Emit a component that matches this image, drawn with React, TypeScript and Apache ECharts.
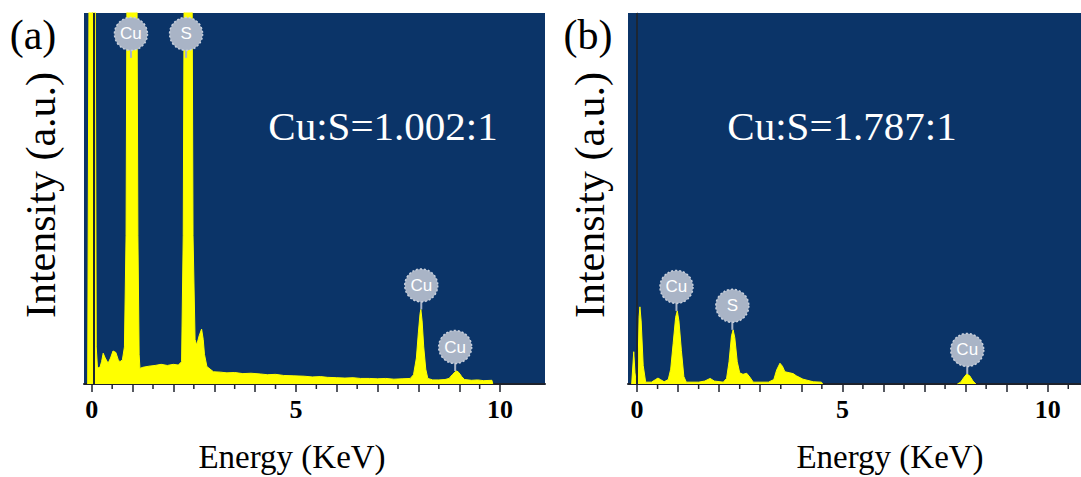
import React, { useEffect, useRef } from "react";
import * as echarts from "echarts";

// ---- Data (Energy in keV, intensity in arbitrary units, 0–100 = full plot height) ----
const spectrumA: (number | null)[][] = [
  [-0.1, 0], [-0.06, 130], [0.08, 130], [0.11, 10], [0.14, 4.3], [0.2, 4.5], [0.24, 6],
  [0.28, 8.3], [0.33, 7], [0.4, 5.6], [0.46, 7], [0.52, 8.9], [0.59, 8.5], [0.65, 6.5],
  [0.69, 6.0], [0.75, 6.5], [0.8, 10], [0.84, 40], [0.87, 130], [1.1, 130], [1.13, 40],
  [1.16, 8], [1.18, 4.2], [1.25, 4.5], [1.4, 4.8], [1.55, 5.0], [1.7, 5.3], [1.85, 5.0],
  [2.0, 5.3], [2.12, 5.1], [2.2, 6], [2.24, 40], [2.27, 130], [2.45, 130], [2.48, 40],
  [2.53, 12], [2.57, 10.5], [2.63, 13], [2.69, 14.8], [2.73, 12], [2.76, 8], [2.82, 4.7],
  [2.98, 3.3], [3.15, 3.2], [3.31, 3.0], [3.5, 3.1], [3.7, 2.8], [3.9, 2.9], [4.13, 2.7],
  [4.3, 2.5], [4.5, 2.6], [4.7, 2.3], [4.95, 2.2], [5.2, 2.1], [5.4, 1.9], [5.6, 2.0],
  [5.77, 1.8], [6.0, 1.7], [6.2, 1.6], [6.4, 1.7], [6.58, 1.5], [6.8, 1.5], [7.0, 1.4],
  [7.2, 1.5], [7.4, 1.3], [7.6, 1.4], [7.8, 1.5], [7.88, 2.5], [7.95, 7], [8.0, 14],
  [8.04, 19], [8.06, 20.1], [8.09, 17], [8.13, 10], [8.18, 4], [8.23, 1.5], [8.35, 1.1],
  [8.5, 1.1], [8.65, 1.2], [8.75, 1.5], [8.83, 2.5], [8.9, 3.3], [8.94, 3.5], [8.99, 3.1],
  [9.06, 2], [9.13, 1.2], [9.3, 1.0], [9.45, 1.1], [9.6, 0.9], [9.8, 1.0], [9.82, 0],
];

const spectrumB: (number | null)[][] = [
  [-0.13, 0], [-0.08, 8.7], [-0.05, 3], [-0.02, 0.5], [0.02, 2], [0.05, 18], [0.07, 20.8],
  [0.1, 17], [0.15, 5], [0.21, 0.5], [0.35, 0.5], [0.45, 1.2], [0.51, 1.6], [0.57, 1.2],
  [0.66, 0.6], [0.76, 1.2], [0.82, 4], [0.88, 11], [0.94, 18], [0.98, 19.7], [1.02, 17],
  [1.08, 9], [1.14, 2], [1.2, 0.5], [1.5, 0.5], [1.65, 0.8], [1.78, 1.5], [1.88, 0.8],
  [2.1, 0.5], [2.18, 1.5], [2.24, 6], [2.3, 13], [2.34, 14.6], [2.38, 12.5], [2.44, 6],
  [2.5, 3], [2.58, 2.6], [2.67, 2.9], [2.75, 1.8], [2.83, 0.5], [3.2, 0.5], [3.33, 1.2],
  [3.4, 3.8], [3.48, 5.6], [3.54, 4.8], [3.6, 3.3], [3.72, 3.0], [3.8, 2.8], [3.88, 2.2],
  [4.04, 1.3], [4.29, 0.6], [4.49, 0.5], [4.52, 0], [6.0, null], [7.8, 0], [7.88, 0.5],
  [7.96, 1.8], [8.03, 2.7], [8.1, 2.2], [8.18, 0.8], [8.25, 0],
];

// Peak labels: energy, anchor intensity (top of the peak, or clipped top), element
const peakEnergyA = [0.96, 2.31, 8.07, 8.9];
const peakAnchorA = [87.9, 87.9, 20.1, 3.5];
const peakNameA = ["Cu", "S", "Cu", "Cu"];

const peakEnergyB = [0.96, 2.32, 8.04];
const peakAnchorB = [19.7, 14.6, 2.7];
const peakNameB = ["Cu", "S", "Cu"];

// Axis ticks
const majorTicksA = [0, 1, 2, 3, 4, 5, 6, 7, 8, 9, 10];
const halfTicksA = [0.5, 1.5, 2.5, 3.5, 4.5, 5.5, 6.5, 7.5, 8.5, 9.5];
const majorTicksB = [0, 1, 2, 3, 4, 5, 6, 7, 8, 9, 10];
const halfTicksB = [0.5, 1.5, 2.5, 3.5, 4.5, 5.5, 6.5, 7.5, 8.5, 9.5, 10.5];
const tickLabels = [0, 5, 10];

const ratioA = "Cu:S=1.002:1";
const ratioB = "Cu:S=1.787:1";

const BLUE = "#0b3468";
const YELLOW = "#ffff00";
const AXIS = "#1e222c";
const SERIF = "'Liberation Serif', 'Times New Roman', serif";

function labelSeries(idx: number, xs: number[], ys: number[], names: string[]) {
  return {
    type: "custom",
    xAxisIndex: idx,
    yAxisIndex: idx,
    silent: true,
    clip: false,
    z: 5,
    data: xs.map((x, i) => [x, ys[i]]),
    renderItem: (params: any, api: any) => {
      const p = api.coord([api.value(0), api.value(1)]);
      const cx = p[0];
      const cy = p[1] - 24;
      return {
        type: "group",
        children: [
          {
            type: "line",
            shape: { x1: cx, y1: p[1], x2: cx, y2: cy + 14 },
            style: { stroke: "#aab5c7", lineWidth: 2 },
          },
          {
            type: "circle",
            shape: { cx, cy, r: 16.5 },
            style: { fill: "#a9b4c6", stroke: "#c9d0dc", lineWidth: 1.5, lineDash: [2, 2] },
          },
          {
            type: "text",
            style: {
              text: names[params.dataIndex],
              x: cx,
              y: cy,
              align: "center",
              verticalAlign: "middle",
              fill: "#ffffff",
              fontSize: 17,
              fontFamily: "'Liberation Sans', Arial, sans-serif",
            },
          },
        ],
      };
    },
  };
}

function halfTickSeries(idx: number, ticks: number[]) {
  return {
    type: "custom",
    xAxisIndex: idx,
    yAxisIndex: idx,
    silent: true,
    clip: false,
    z: 5,
    data: ticks.map((t) => [t, 0]),
    renderItem: (_params: any, api: any) => {
      const p = api.coord([api.value(0), 0]);
      return {
        type: "line",
        shape: { x1: p[0], y1: p[1] + 1, x2: p[0], y2: p[1] + 5 },
        style: { stroke: AXIS, lineWidth: 1.5 },
      };
    },
  };
}

function spectrumSeries(idx: number, data: (number | null)[][], zeroLine: number) {
  return {
    type: "line",
    xAxisIndex: idx,
    yAxisIndex: idx,
    data,
    showSymbol: false,
    symbol: "none",
    clip: true,
    connectNulls: false,
    lineStyle: { color: YELLOW, width: 1 },
    areaStyle: { color: YELLOW, opacity: 1 },
    markLine: {
      silent: true,
      symbol: "none",
      label: { show: false },
      lineStyle: { color: "#1c2633", width: 2, type: "solid" },
      data: [{ xAxis: zeroLine }],
    },
  };
}

function xAxisFor(grid: number, min: number, max: number, ticks: number[]) {
  return {
    type: "value",
    gridIndex: grid,
    min,
    max,
    axisLine: { show: true, onZero: false, lineStyle: { color: AXIS, width: 2 } },
    axisTick: { show: true, customValues: ticks, length: 8, lineStyle: { color: AXIS, width: 1.5 } },
    axisLabel: {
      show: true,
      customValues: tickLabels,
      fontSize: 26,
      fontWeight: "bold",
      fontFamily: SERIF,
      color: "#000",
      margin: 12,
    },
    splitLine: { show: false },
  };
}

function yAxisFor(grid: number) {
  return {
    type: "value",
    gridIndex: grid,
    min: 0,
    max: 100,
    axisLine: { show: true, lineStyle: { color: "#5f84b8", width: 1 } },
    axisTick: { show: false },
    axisLabel: { show: false },
    splitLine: { show: false },
  };
}

function textEl(text: string, x: number, y: number, size: number, color: string, rotation = 0) {
  return {
    type: "text",
    x,
    y,
    rotation,
    silent: true,
    z: 10,
    style: {
      text,
      x: 0,
      y: 0,
      align: "center",
      verticalAlign: "middle",
      fill: color,
      fontSize: size,
      fontFamily: SERIF,
    },
  };
}

export default function App() {
  const ref = useRef<HTMLDivElement>(null);

  useEffect(() => {
    if (!ref.current) return;
    const chart = echarts.init(ref.current, null, { renderer: "svg" });
    chart.setOption({
      animation: false,
      backgroundColor: "#ffffff",
      grid: [
        { left: 84, top: 13, width: 461, height: 371, show: true, backgroundColor: BLUE, borderWidth: 0 },
        { left: 628, top: 13, width: 453, height: 371, show: true, backgroundColor: BLUE, borderWidth: 0 },
      ],
      xAxis: [xAxisFor(0, -0.19, 11.1, majorTicksA), xAxisFor(1, -0.22, 10.81, majorTicksB)],
      yAxis: [yAxisFor(0), yAxisFor(1)],
      series: [
        spectrumSeries(0, spectrumA, 0.04),
        labelSeries(0, peakEnergyA, peakAnchorA, peakNameA),
        halfTickSeries(0, halfTicksA),
        spectrumSeries(1, spectrumB, 0),
        labelSeries(1, peakEnergyB, peakAnchorB, peakNameB),
        halfTickSeries(1, halfTicksB),
      ],
      graphic: [
        textEl("(a)", 33, 35, 42, "#000"),
        textEl("(b)", 588, 35, 42, "#000"),
        textEl("Intensity (a.u.)", 41, 195, 42, "#000", Math.PI / 2),
        textEl("Intensity (a.u.)", 590, 195, 42, "#000", Math.PI / 2),
        textEl("Energy (KeV)", 292, 457, 33, "#000"),
        textEl("Energy (KeV)", 890, 457, 33, "#000"),
        textEl(ratioA, 383, 126, 41, "#ffffff"),
        textEl(ratioB, 842, 126, 41, "#ffffff"),
      ],
    });
    return () => chart.dispose();
  }, []);

  return (
    <div
      ref={ref}
      style={{ position: "fixed", left: 0, top: 0, width: 1081, height: 477 }}
    />
  );
}
